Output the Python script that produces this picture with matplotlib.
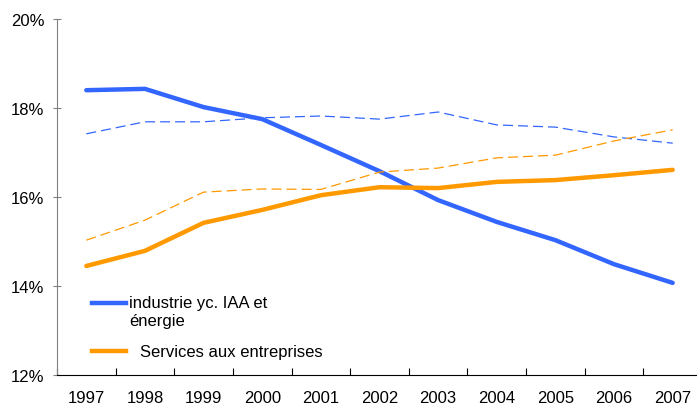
import matplotlib.pyplot as plt
from matplotlib.ticker import FuncFormatter

plt.rcParams['font.family'] = ['Liberation Sans', 'DejaVu Sans']

years = ['1997', '1998', '1999', '2000', '2001', '2002', '2003', '2004', '2005', '2006', '2007']
industrie = [18.40, 18.43, 18.02, 17.75, 17.17, 16.58, 15.93, 15.44, 15.03, 14.49, 14.07]
industrie_2 = [17.42, 17.69, 17.69, 17.78, 17.82, 17.75, 17.91, 17.62, 17.57, 17.35, 17.21]
services = [14.45, 14.79, 15.42, 15.71, 16.04, 16.22, 16.20, 16.34, 16.38, 16.49, 16.61]
services_2 = [15.03, 15.48, 16.11, 16.18, 16.17, 16.56, 16.65, 16.88, 16.94, 17.26, 17.51]

blue = '#3366ff'
orange = '#ff9900'

fig = plt.figure(figsize=(6.97, 4.10), dpi=100)
ax = fig.add_axes([57/697, 34/410, 645/697, 356/410])
x = range(len(years))

ax.plot(x, industrie, color=blue, lw=3.2, solid_capstyle='round')
ax.plot(x, industrie_2, color=blue, lw=0.9, dashes=(8, 4))
ax.plot(x, services, color=orange, lw=3.2, solid_capstyle='round')
ax.plot(x, services_2, color=orange, lw=0.9, dashes=(8, 4))

ax.set_xlim(-0.5, 10.5)
ax.set_ylim(12, 20)
ax.set_yticks([12, 14, 16, 18, 20])
ax.yaxis.set_major_formatter(FuncFormatter(lambda v, p: '%d%%' % v))
ax.set_xticks([i + 0.5 for i in range(-1, 11)], minor=False)
ax.set_xticklabels([])
ax.set_xticks(list(x), minor=True)
ax.set_xticklabels(years, minor=True)
ax.tick_params(axis='x', which='major', direction='in', length=5, color='black')
ax.tick_params(axis='x', which='minor', length=0, pad=11, labelsize=12)
ax.tick_params(axis='y', direction='inout', length=6, color='#808080', labelsize=12, pad=6)

for s in ['top', 'right']:
    ax.spines[s].set_visible(False)
ax.spines['left'].set_color('#808080')
ax.spines['bottom'].set_color('black')

# legend drawn by hand (handle aligned with first text line)
ax.plot([0.054, 0.107], [0.202, 0.202], transform=ax.transAxes, color=blue, lw=3.2, clip_on=False)
ax.text(0.112, 0.224, 'industrie yc. IAA et\nénergie', transform=ax.transAxes,
        fontsize=12, va='top', ha='left')
ax.plot([0.054, 0.107], [0.067, 0.067], transform=ax.transAxes, color=orange, lw=3.2, clip_on=False)
ax.text(0.129, 0.067, 'Services aux entreprises', transform=ax.transAxes,
        fontsize=12, va='center', ha='left')

fig.savefig('out.png', dpi=100)
